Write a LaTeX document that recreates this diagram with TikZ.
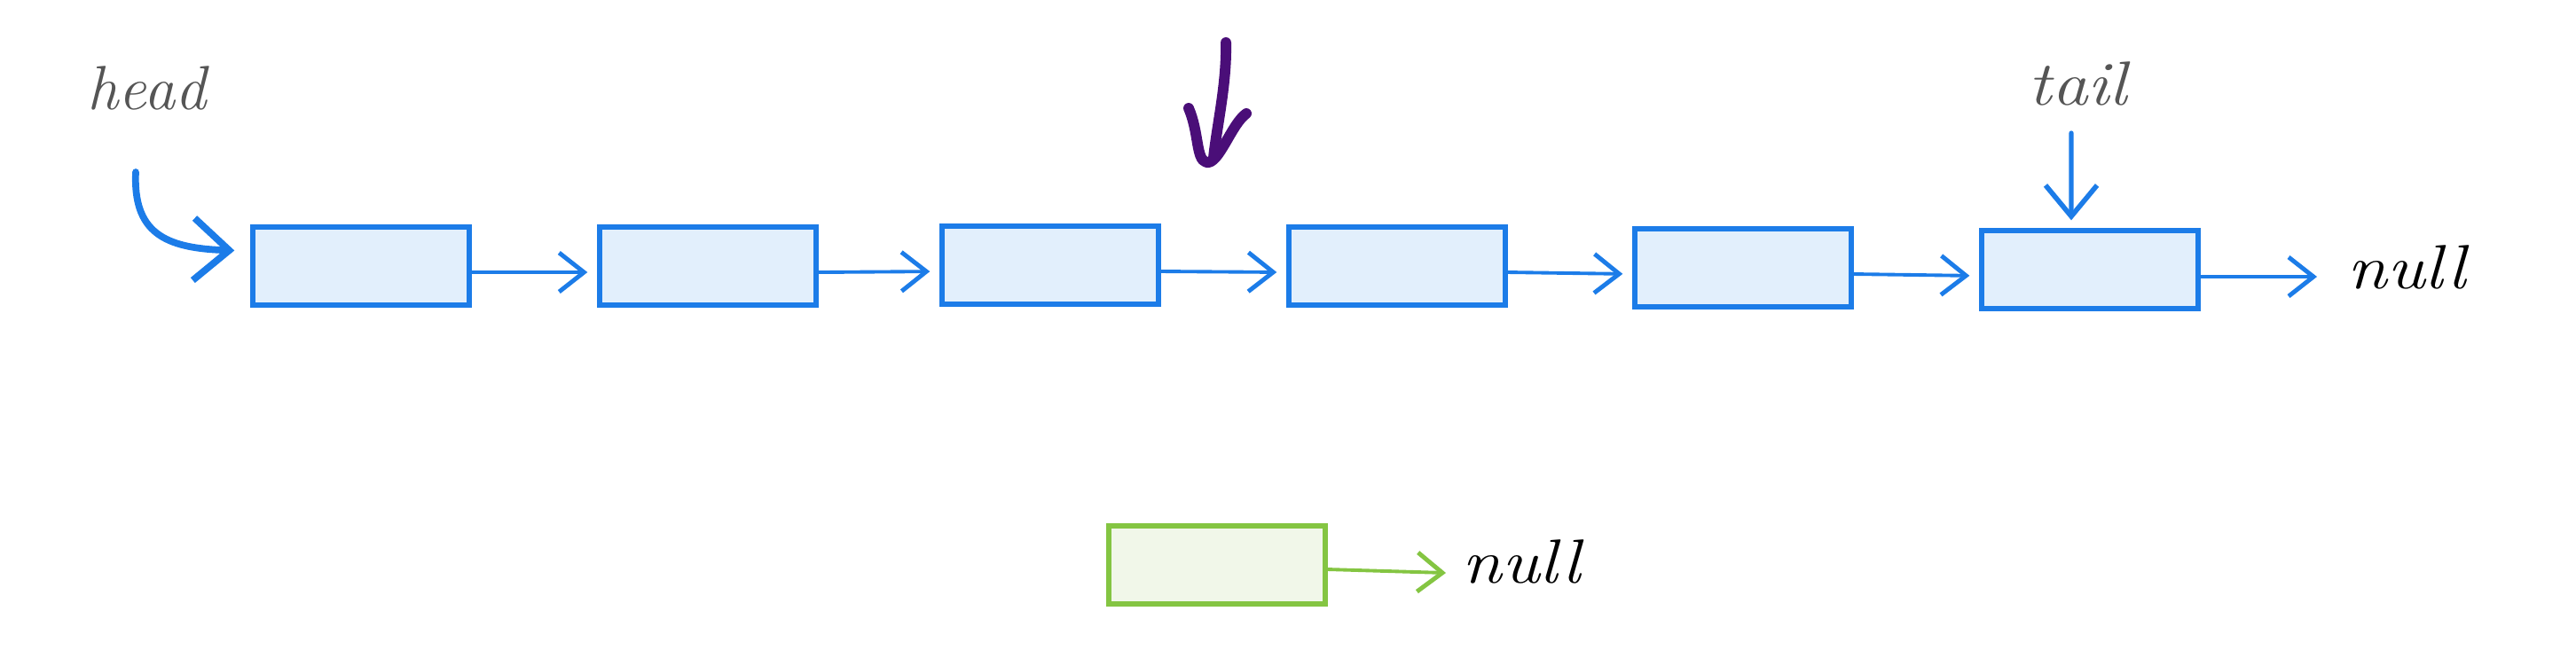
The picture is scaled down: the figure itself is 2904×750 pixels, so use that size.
\documentclass[tikz,border=0pt]{standalone}
\usepackage{graphicx}
\usetikzlibrary{arrows.meta}
\definecolor{lblue}{RGB}{28,124,232}
\definecolor{lbfill}{RGB}{226,239,252}
\definecolor{lgreen}{RGB}{132,197,66}
\definecolor{lgfill}{RGB}{241,247,233}
\definecolor{lgray}{RGB}{85,85,85}
\definecolor{lpurple}{RGB}{74,14,120}
\tikzset{
  nodebox/.style={draw=lblue, fill=lbfill, line width=1.5pt, minimum width=2.44cm, minimum height=0.88cm, inner sep=0pt},
  greenbox/.style={nodebox, draw=lgreen, fill=lgfill},
  link/.style={draw=lblue, line width=1.1pt, shorten >=0.11cm,
    -{Straight Barb[length=2.8mm,width=4.4mm,line width=1.4pt]}},
  hand/.style={font=\itshape\fontsize{20}{20}\selectfont, inner sep=0pt, anchor=base west},
  thick pointer/.style={draw=lblue, line width=2.2pt, line cap=round,
    -{Straight Barb[length=4mm,width=7mm,line width=2.2pt]}},
  marker/.style={draw=lpurple, line width=3.4pt, line cap=round, line join=round}
}
\begin{document}
\begin{tikzpicture}[x=0.01cm, y=-0.01cm]
\useasboundingbox (0,0) rectangle (2904,750);
% list nodes
\node[nodebox] (b1) at (407,300) {};
\node[nodebox] (b2) at (798,300) {};
\node[nodebox] (b3) at (1184,299) {};
\node[nodebox] (b4) at (1575,300) {};
\node[nodebox] (b5) at (1965,302) {};
\node[nodebox] (b6) at (2356,304) {};
\node[greenbox] (g) at (1372,637) {};
% links
\draw[link] ([yshift=-0.07cm]b1.east) -- ([yshift=-0.07cm]b2.west);
\draw[link] ([yshift=-0.07cm]b2.east) -- ([yshift=-0.07cm]b3.west);
\draw[link] ([yshift=-0.07cm]b3.east) -- ([yshift=-0.07cm]b4.west);
\draw[link] ([yshift=-0.07cm]b4.east) -- ([yshift=-0.07cm]b5.west);
\draw[link] ([yshift=-0.07cm]b5.east) -- ([yshift=-0.07cm]b6.west);
% null after tail
\node[hand] (null1) at (2646,325) {\scalebox{1.15}[1]{null}};
\coordinate (n1) at (2612,312);
\draw[link, shorten >=0pt] ([yshift=-0.08cm]b6.east) -- (n1);
% green node
\node[hand] (null2) at (1648,657) {\scalebox{1.15}[1]{null}};
\coordinate (n2) at (1630,646);
\draw[link, draw=lgreen, shorten >=0pt] ([yshift=-0.05cm]g.east) -- (n2);
% head
\node[hand, text=lgray] (head) at (98,123) {head};
\coordinate (hs) at (153,194);
\draw[thick pointer, shorten >=0.18cm] (hs) .. controls (150,262) and (185,280) .. ([yshift=0.17cm]b1.west);
% tail
\node[hand, text=lgray] (tail) at (2286,118) {\scalebox{1.15}[1]{tail}};
\coordinate (ts) at (2335,150);
\draw[draw=lblue, line width=1.5pt, line cap=round,
  -{Straight Barb[length=3.5mm,width=5.8mm,line width=1.6pt]}, shorten >=0.09cm]
  (ts) -- ([xshift=-0.21cm]b6.north);
% purple marker
\draw[marker] (1382,48) .. controls (1383,95) and (1372,140) .. (1368,178);
\draw[marker] (1340,122) .. controls (1352,150) and (1348,180) .. (1360,183)
  .. controls (1374,186) and (1388,140) .. (1405,128);
\end{tikzpicture}
\end{document}
